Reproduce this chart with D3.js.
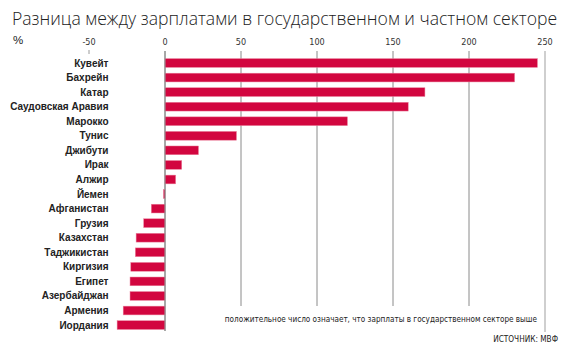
<!DOCTYPE html>
<html><head><meta charset="utf-8">
<script src="https://cdn.jsdelivr.net/npm/d3@7"></script>
<style>
body{margin:0;background:#fff;}
svg{display:block;}
</style></head>
<body>
<svg id="chart" width="570" height="355"></svg>
<script>
const countries = ["Кувейт","Бахрейн","Катар","Саудовская Аравия","Марокко","Тунис","Джибути","Ирак","Алжир","Йемен","Афганистан","Грузия","Казахстан","Таджикистан","Киргизия","Египет","Азербайджан","Армения","Иордания"];
const values = [245,230,171,160,120,47,22,11,7,-1,-9,-14,-19,-19.5,-22.5,-23,-23,-27.5,-31.5];
const tickValues = [-50,0,50,100,150,200,250];
const title = "Разница между зарплатами в государственном и частном секторе";
const unit = "%";
const note = "положительное число означает, что зарплаты в государственном секторе выше";
const source = "ИСТОЧНИК: МВФ";

const svg = d3.select("#chart");
const x = d3.scaleLinear().domain([-50,250]).range([89,545]);
const y = d3.scaleBand().domain(countries).range([55.72,332.36]).paddingInner(0.4).paddingOuter(0.2);

const narrow = "'Liberation Sans Narrow','DejaVu Sans Condensed','Roboto Condensed',sans-serif";

svg.append("text").attr("x",12).attr("y",25)
  .attr("font-family","'Open Sans',sans-serif").attr("font-weight",300)
  .attr("font-size",17.6).attr("fill","#222").text(title);

svg.append("text").attr("x",13).attr("y",44)
  .attr("font-family","'Liberation Sans',sans-serif").attr("font-size",11.5).attr("fill","#222").text(unit);

// gridlines
const grid = svg.append("g");
tickValues.filter(d=>d>=0).forEach(d=>{
  let y2 = 306;
  if (d===0) y2 = 331;
  if (d===250) y2 = 332;
  grid.append("line").attr("x1",x(d)).attr("x2",x(d)).attr("y1",51).attr("y2",y2)
    .attr("stroke", d===250 ? "#b5b5b5" : "#8a8a8a").attr("stroke-width", d===250?1.3:1);
});
// small tick at -50
grid.append("line").attr("x1",x(-50)).attr("x2",x(-50)).attr("y1",50).attr("y2",54)
  .attr("stroke","#9a9a9a").attr("stroke-width",1);

// tick labels
svg.append("g").selectAll("text").data(tickValues).join("text")
  .attr("x",d=>x(d)).attr("y",45).attr("text-anchor","middle")
  .attr("font-family",narrow).attr("font-size",9).attr("fill","#333")
  .text(d=>d);

// bars
svg.append("g").selectAll("rect").data(countries).join("rect")
  .attr("x",(d,i)=>x(Math.min(0,values[i])))
  .attr("y",d=>y(d))
  .attr("width",(d,i)=>Math.abs(x(values[i])-x(0)))
  .attr("height",y.bandwidth())
  .attr("fill","#d2063f")
  .attr("stroke","#ea7e9a").attr("stroke-width",0.5);

// redraw 0 axis on top
svg.append("line").attr("x1",x(0)).attr("x2",x(0)).attr("y1",51).attr("y2",331)
  .attr("stroke","#8a8a8a").attr("stroke-width",1);

// category labels
svg.append("g").selectAll("text").data(countries).join("text")
  .attr("x",108.5).attr("y",d=>y(d)+y.bandwidth()/2).attr("dy","0.35em")
  .attr("text-anchor","end")
  .attr("font-family","'Liberation Sans',Arial,sans-serif").attr("font-weight",700)
  .attr("font-size",10).attr("fill","#222")
  .text(d=>d);

svg.append("text").attr("x",537).attr("y",322).attr("text-anchor","end")
  .attr("font-family",narrow).attr("font-size",8.1).attr("fill","#222").text(note);
svg.append("text").attr("x",558).attr("y",342).attr("text-anchor","end")
  .attr("font-family",narrow).attr("font-size",8.2).attr("fill","#222").text(source);
</script>
</body></html>
